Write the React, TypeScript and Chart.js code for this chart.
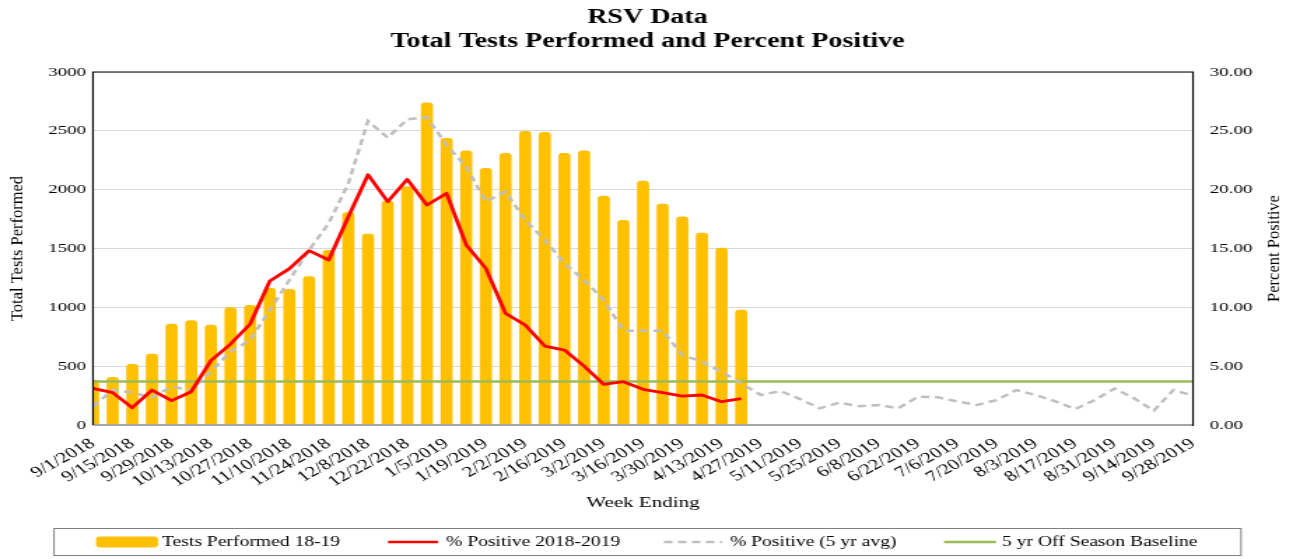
import { useEffect, useRef } from 'react';
import { Chart, registerables } from 'chart.js';

Chart.register(...registerables);

// ---------------- data ----------------
const weekEnding = [
  '9/1/2018', '9/8/2018', '9/15/2018', '9/22/2018', '9/29/2018', '10/6/2018', '10/13/2018', '10/20/2018',
  '10/27/2018', '11/3/2018', '11/10/2018', '11/17/2018', '11/24/2018', '12/1/2018', '12/8/2018', '12/15/2018',
  '12/22/2018', '12/29/2018', '1/5/2019', '1/12/2019', '1/19/2019', '1/26/2019', '2/2/2019', '2/9/2019',
  '2/16/2019', '2/23/2019', '3/2/2019', '3/9/2019', '3/16/2019', '3/23/2019', '3/30/2019', '4/6/2019',
  '4/13/2019', '4/20/2019', '4/27/2019', '5/4/2019', '5/11/2019', '5/18/2019', '5/25/2019', '6/1/2019',
  '6/8/2019', '6/15/2019', '6/22/2019', '6/29/2019', '7/6/2019', '7/13/2019', '7/20/2019', '7/27/2019',
  '8/3/2019', '8/10/2019', '8/17/2019', '8/24/2019', '8/31/2019', '9/7/2019', '9/14/2019', '9/21/2019',
  '9/28/2019',
];

const testsPerformed1819 = [
  382, 405, 516, 603, 858, 887, 850, 997, 1017, 1162, 1153, 1261, 1484, 1805, 1623, 1904, 2025, 2739,
  2436, 2331, 2181, 2309, 2496, 2487, 2309, 2331, 1946, 1739, 2073, 1878, 1770, 1632, 1504, 977,
];

const pctPositive1819 = [
  3.12, 2.75, 1.47, 2.97, 2.07, 2.83, 5.47, 6.88, 8.58, 12.24, 13.29, 14.82, 14.02, 17.7, 21.27, 18.98,
  20.88, 18.7, 19.69, 15.3, 13.31, 9.49, 8.5, 6.71, 6.37, 5.01, 3.46, 3.68, 3.03, 2.75, 2.46, 2.55, 1.98, 2.24,
];

const pctPositive5yrAvg = [
  1.56, 2.97, 2.75, 2.35, 3.26, 2.97, 4.53, 6.23, 7.22, 9.77, 12.32, 14.87, 17.14, 20.54, 25.83, 24.42,
  25.98, 26.15, 23.8, 21.95, 18.98, 19.83, 17.42, 15.72, 13.74, 12.32, 10.62, 8.02, 8.02, 8.02, 5.95, 5.38,
  4.53, 3.54, 2.55, 2.89, 2.2, 1.42, 1.9, 1.6, 1.7, 1.42, 2.41, 2.35, 2.0, 1.7, 2.12, 2.97, 2.55, 2.0,
  1.36, 2.12, 3.1, 2.27, 1.22, 2.97, 2.5,
];

const offSeasonBaseline = [3.7, 3.7];

const leftTickValues = [0, 500, 1000, 1500, 2000, 2500, 3000];
const rightTickValues = [0, 5, 10, 15, 20, 25, 30];

const titleLines = ['RSV Data', 'Total Tests Performed and Percent Positive'];
const xAxisTitle = 'Week Ending';
const leftAxisTitle = 'Total Tests Performed';
const rightAxisTitle = 'Percent Positive';

// ---------------- layout ----------------
const FONT = "'Liberation Serif', 'Times New Roman', Times, serif";
const OUT_W = 1293;
const OUT_H = 559;
const CW = 924; // canvas drawn narrower and shown stretched horizontally (text in reference is wide)
const SX = OUT_W / CW;
const px = (x: number) => x / SX;

const PLOT_LEFT = 93;
const PLOT_RIGHT = 1193;
const PLOT_TOP = 72;
const PLOT_BOTTOM = 425;

const GOLD = '#FFC000';
const RED = '#FF0000';
const GREY = '#BFBFBF';
const GREEN = '#9BBB59';

const decorPlugin = {
  id: 'decor',
  afterDatasetsDraw(chart: any) {
    const { ctx, chartArea: a } = chart;
    ctx.save();
    ctx.lineCap = 'butt';
    ctx.strokeStyle = '#A6A6A6';
    ctx.lineWidth = 2;
    ctx.beginPath();
    ctx.moveTo(a.left, a.bottom);
    ctx.lineTo(a.right, a.bottom);
    ctx.stroke();
    ctx.strokeStyle = '#000';
    ctx.lineWidth = 1.2;
    ctx.beginPath();
    ctx.moveTo(a.left, a.bottom);
    ctx.lineTo(a.left, a.top);
    ctx.lineTo(a.right, a.top);
    ctx.lineTo(a.right, a.bottom + 1);
    ctx.stroke();
    ctx.restore();
  },
  afterDraw(chart: any) {
    const { ctx, chartArea: a } = chart;
    const ds = chart.data.datasets;
    ctx.save();
    ctx.fillStyle = '#000';
    ctx.textBaseline = 'middle';
    ctx.textAlign = 'center';
    ctx.font = `bold 20px ${FONT}`;
    ctx.fillText(titleLines[0], px(647.5), 18);
    ctx.fillText(titleLines[1], px(647.5), 42);

    ctx.font = `15px ${FONT}`;
    ctx.fillText(xAxisTitle, px(643), 503);

    const vText = (t: string, cx: number, cy: number) => {
      ctx.save();
      ctx.translate(cx, cy);
      ctx.scale(1 / SX, 1);
      ctx.rotate(-Math.PI / 2);
      ctx.font = `16.5px ${FONT}`;
      ctx.textAlign = 'center';
      ctx.textBaseline = 'middle';
      ctx.fillText(t, 0, 0);
      ctx.restore();
    };
    const midY = (a.top + a.bottom) / 2;
    vText(leftAxisTitle, px(18.5), midY);
    vText(rightAxisTitle, px(1275), midY);

    // legend
    ctx.strokeStyle = '#808080';
    ctx.lineWidth = 1;
    ctx.strokeRect(px(54), 528.5, px(1241) - px(54), 27);
    const ly = 542;
    ctx.font = `14px ${FONT}`;
    ctx.textAlign = 'left';
    ctx.fillStyle = GOLD;
    ctx.beginPath();
    (ctx as any).roundRect(px(96), 536.5, px(158) - px(96), 11, 3);
    ctx.fill();
    ctx.fillStyle = '#000';
    ctx.fillText(ds[0].label, px(162), ly);
    const lineSample = (x0: number, x1: number, color: string, dash: number[]) => {
      ctx.save();
      ctx.strokeStyle = color;
      ctx.lineWidth = 2.5;
      ctx.setLineDash(dash);
      ctx.beginPath();
      ctx.moveTo(px(x0), ly);
      ctx.lineTo(px(x1), ly);
      ctx.stroke();
      ctx.restore();
    };
    lineSample(388, 438, RED, []);
    ctx.fillText(ds[3].label, px(446), ly);
    lineSample(664, 722, GREY, [6, 4]);
    ctx.fillText(ds[2].label, px(730), ly);
    lineSample(944, 996, GREEN, []);
    ctx.fillText(ds[1].label, px(1002), ly);
    ctx.restore();
  },
};

export default function App() {
  const ref = useRef<HTMLCanvasElement | null>(null);

  useEffect(() => {
    const canvas = ref.current;
    if (!canvas) return;
    const tickFont = { family: FONT, size: 13.5 };
    const chart = new Chart(canvas, {
      type: 'bar',
      data: {
        labels: weekEnding,
        datasets: [
          {
            type: 'bar',
            label: 'Tests Performed 18-19',
            data: testsPerformed1819,
            backgroundColor: GOLD,
            barThickness: 8,
            borderRadius: 3,
            yAxisID: 'y',
            order: 4,
            clip: 0,
          } as any,
          {
            type: 'line',
            label: '5 yr Off Season Baseline',
            data: [
              { x: weekEnding[0], y: offSeasonBaseline[0] },
              { x: weekEnding[weekEnding.length - 1], y: offSeasonBaseline[1] },
            ],
            borderColor: GREEN,
            borderWidth: 2.5,
            pointRadius: 0,
            yAxisID: 'y1',
            order: 3,
          } as any,
          {
            type: 'line',
            label: '% Positive (5 yr avg)',
            data: pctPositive5yrAvg,
            borderColor: GREY,
            borderWidth: 2.5,
            borderDash: [6, 4],
            pointRadius: 0,
            tension: 0,
            yAxisID: 'y1',
            order: 2,
          } as any,
          {
            type: 'line',
            label: '% Positive 2018-2019',
            data: pctPositive1819,
            borderColor: RED,
            borderWidth: 2.8,
            borderJoinStyle: 'round',
            pointRadius: 0,
            tension: 0,
            yAxisID: 'y1',
            order: 1,
          } as any,
        ],
      },
      options: {
        responsive: false,
        maintainAspectRatio: false,
        devicePixelRatio: 1,
        animation: false,
        events: [],
        layout: { padding: { top: PLOT_TOP, left: 0, right: 0, bottom: 0 } },
        plugins: {
          legend: { display: false },
          title: { display: false },
          tooltip: { enabled: false },
        },
        scales: {
          x: {
            type: 'category',
            offset: false,
            grid: { display: false },
            border: { display: false },
            ticks: {
              autoSkip: false,
              maxRotation: 37,
              minRotation: 37,
              padding: 2,
              color: '#000',
              font: { family: FONT, size: 15 },
              callback: (_v: any, i: number) => (i % 2 === 0 ? weekEnding[i] : ''),
            },
            afterFit: (s: any) => {
              s.height = OUT_H - PLOT_BOTTOM;
            },
          },
          y: {
            position: 'left',
            min: 0,
            max: 3000,
            afterBuildTicks: (s: any) => {
              s.ticks = leftTickValues.map((v) => ({ value: v }));
            },
            ticks: { padding: 5, color: '#000', font: tickFont, callback: (v: any) => String(v) },
            grid: { color: '#D9D9D9', lineWidth: 1, drawTicks: false },
            border: { display: false },
            afterFit: (s: any) => {
              s.width = px(PLOT_LEFT);
            },
          },
          y1: {
            position: 'right',
            min: 0,
            max: 30,
            afterBuildTicks: (s: any) => {
              s.ticks = rightTickValues.map((v) => ({ value: v }));
            },
            ticks: {
              padding: 12,
              color: '#000',
              font: tickFont,
              callback: (v: any) => Number(v).toFixed(2),
            },
            grid: { display: false, drawTicks: false },
            border: { display: false },
            afterFit: (s: any) => {
              s.width = CW - px(PLOT_RIGHT);
            },
          },
        },
      } as any,
      plugins: [decorPlugin],
    });
    return () => chart.destroy();
  }, []);

  return (
    <div style={{ position: 'absolute', left: 0, top: 0, width: OUT_W, height: OUT_H, background: '#fff' }}>
      <canvas
        ref={ref}
        width={CW}
        height={OUT_H}
        style={{ width: `${OUT_W}px`, height: `${OUT_H}px`, display: 'block' }}
      />
    </div>
  );
}
